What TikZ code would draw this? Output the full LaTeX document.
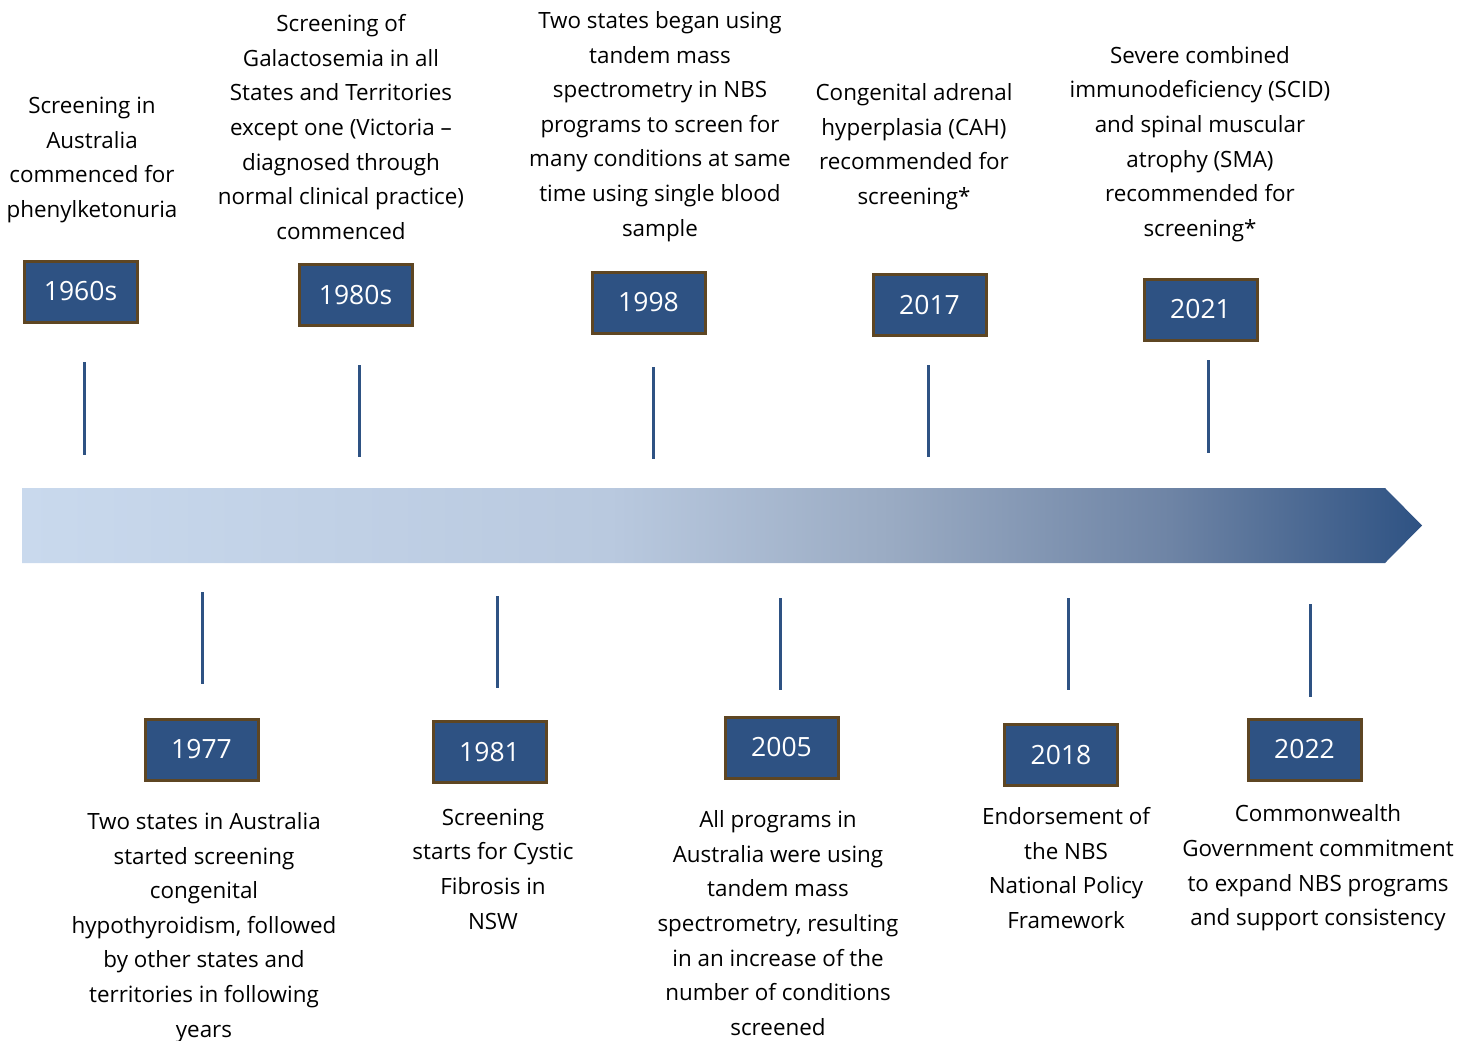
\documentclass[tikz,border=0pt]{standalone}
\usepackage{fontspec}
\setmainfont{Open Sans}
\definecolor{boxblue}{HTML}{2E5283}
\definecolor{boxbrown}{HTML}{5E4623}
\definecolor{sA}{HTML}{C9D9ED}
\definecolor{sB}{HTML}{B9C9DF}
\definecolor{sC}{HTML}{9AABC3}
\definecolor{sD}{HTML}{6E84A5}
\definecolor{sE}{HTML}{2E5283}
\pgfdeclarehorizontalshading{tlshade}{100bp}{color(0bp)=(sA); color(25bp)=(sA); color(46bp)=(sB); color(56bp)=(sC); color(66bp)=(sD); color(75bp)=(sE); color(100bp)=(sE)}
\begin{document}
\begin{tikzpicture}[x=1pt,y=-1pt,
  yearbox/.style={draw=boxbrown, fill=boxblue, line width=3pt, minimum width=113pt, minimum height=61pt, inner sep=0pt, text=white, font=\fontsize{26.5}{30}\selectfont},
  desc/.style={align=center, inner sep=0pt, font=\fontsize{22.4}{34.6}\selectfont},
  tick/.style={draw=boxblue, line width=3pt}]
\useasboundingbox (0,0) rectangle (1472,1041);
% arrow
\shade[shading=tlshade] (22,488) -- (1385,488) -- (1422,525.5) -- (1385,563) -- (22,563) -- cycle;
% top boxes
\node[yearbox] (b1960) at (80.5,291.5) {1960s};
\node[yearbox] (b1980) at (355.5,295) {1980s};
\node[yearbox] (b1998) at (648.5,302.5) {1998};
\node[yearbox] (b2017) at (929.5,305) {2017};
\node[yearbox] (b2021) at (1200.5,309.5) {2021};
% bottom boxes
\node[yearbox] (b1977) at (201.5,749.5) {1977};
\node[yearbox] (b1981) at (489.5,752) {1981};
\node[yearbox] (b2005) at (781.5,747.5) {2005};
\node[yearbox] (b2018) at (1061,755) {2018};
\node[yearbox] (b2022) at (1304.5,749.5) {2022};
% ticks
\coordinate (t1a) at (84,362); \coordinate (t1b) at (84,455);
\coordinate (t2a) at (359,365); \coordinate (t2b) at (359,457);
\coordinate (t3a) at (653,367); \coordinate (t3b) at (653,459);
\coordinate (t4a) at (928,365); \coordinate (t4b) at (928,457);
\coordinate (t5a) at (1208,360); \coordinate (t5b) at (1208,453);
\coordinate (u1a) at (202,592); \coordinate (u1b) at (202,684);
\coordinate (u2a) at (497,596); \coordinate (u2b) at (497,688);
\coordinate (u3a) at (780,598); \coordinate (u3b) at (780,690);
\coordinate (u4a) at (1068,598); \coordinate (u4b) at (1068,690);
\coordinate (u5a) at (1310,604); \coordinate (u5b) at (1310,697);
\foreach \p in {t1,t2,t3,t4,t5,u1,u2,u3,u4,u5} {\draw[tick] (\p a) -- (\p b);}
% top texts
\node[desc] (d1960) at (92,160) {Screening in\\Australia\\commenced for\\phenylketonuria};
\node[desc] (d1980) at (341,127) {Screening of\\Galactosemia in all\\States and Territories\\except one (Victoria --\\diagnosed through\\normal clinical practice)\\commenced};
\node[desc] (d1998) at (660,126.5) {Two states began using\\tandem mass\\spectrometry in NBS\\programs to screen for\\many conditions at same\\time using single blood\\sample};
\node[desc] (d2017) at (914,146.5) {Congenital adrenal\\hyperplasia (CAH)\\recommended for\\screening*};
\node[desc] (d2021) at (1200,144) {Severe combined\\immunodeficiency (SCID)\\and spinal muscular\\atrophy (SMA)\\recommended for\\screening*};
% bottom texts
\node[desc] (d1977) at (204,927.5) {Two states in Australia\\started screening\\congenital\\hypothyroidism, followed\\by other states and\\territories in following\\years};
\node[desc] (d1981) at (493,869) {Screening\\starts for Cystic\\Fibrosis in\\NSW};
\node[desc] (d2005) at (778,923) {All programs in\\Australia were using\\tandem mass\\spectrometry, resulting\\in an increase of the\\number of conditions\\screened};
\node[desc] (d2018) at (1066,868) {Endorsement of\\the NBS\\National Policy\\Framework};
\node[desc] (d2022) at (1318,868) {Commonwealth\\Government commitment\\to expand NBS programs\\and support consistency};
\end{tikzpicture}
\end{document}
